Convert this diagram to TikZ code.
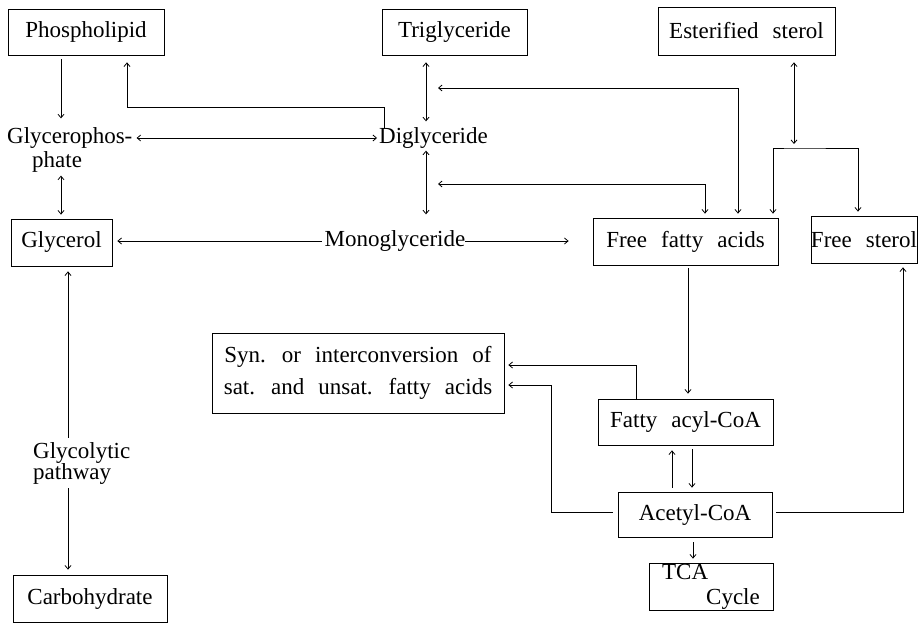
\documentclass[tikz,border=0pt]{standalone}
\usepackage{fontspec}
\setmainfont{Liberation Serif}[WordSpace=2.45]
\usetikzlibrary{arrows.meta,calc}
\begin{document}
\begin{tikzpicture}[x=1pt,y=-1pt,
  every node/.style={font=\fontsize{23}{24}\selectfont, inner sep=0pt},
  pbox/.style={draw, line width=0.8pt},
  conn/.style={line width=0.8pt},
  >={Straight Barb[length=3.5pt,width=6pt]}]
\useasboundingbox (0,0) rectangle (918,623);

% boxes
\node[pbox, minimum width=156pt, minimum height=46pt] (phos) at (86,32) {Phospholipid};
\node[pbox, minimum width=145pt, minimum height=46pt] (tri) at (454.5,32) {Triglyceride};
\node[pbox, minimum width=177pt, minimum height=48pt] (est) at (746.5,31) {Esterified sterol};
\node[pbox, minimum width=101pt, minimum height=47pt] (glyc) at (61.5,242.5) {Glycerol};
\node[pbox, minimum width=185pt, minimum height=47pt] (ffa) at (685.5,241.5) {Free fatty acids};
\node[pbox, minimum width=106pt, minimum height=47pt] (fst) at (864,239.5) {Free sterol};
\node[pbox, minimum width=292pt, minimum height=80pt, align=center,
      font=\fontsize{23}{32}\selectfont] (syn) at (358,373)
      {Syn. or interconversion of\\sat. and unsat. fatty acids};
\node[pbox, minimum width=175pt, minimum height=46pt] (fac) at (685.5,422) {Fatty acyl-CoA};
\node[pbox, minimum width=154pt, minimum height=45pt] (acc) at (695,514.5) {Acetyl-CoA};
\node[pbox, minimum width=124pt, minimum height=47pt, align=left,
      font=\fontsize{23}{25}\selectfont] (tca) at (711,586.5) {TCA\\\hspace*{44pt}Cycle};
\node[pbox, minimum width=154pt, minimum height=47pt] (carb) at (90,598.5) {Carbohydrate};

% plain text nodes
\node[anchor=west, align=left] (gph) at (7,150) {Glycerophos-\\\hspace*{25pt}phate};
\node (dig) at (433.5,138) {Diglyceride};
\node (mono) at (395,241) {Monoglyceride};
\node[anchor=west, align=left, font=\fontsize{23}{21}\selectfont] (glyco) at (33,463) {Glycolytic\\pathway};

% free ends / turning points
\coordinate (tdu) at (438,88);
\coordinate (tdl) at (438,184);
\coordinate (eb) at (794,148);
\coordinate (sl) at (551,385);

% connectors
\draw[conn,->] ($(phos.south)+(-25,4)$) -- ($(phos.south |- gph.north)+(-25,-9)$);
\draw[conn,->] ($(dig.north)+(-49.5,1)$) -- ++(0,-21) -| ($(phos.south)+(41,7)$);
\draw[conn,<->] ($(gph.east)+(4,-12)$) -- ($(dig.west)+(-2,0)$);
\draw[conn,<->] ($(phos.south |- gph.south)+(-25,3)$) -- ($(glyc.north)+(-0.5,-4)$);
\draw[conn,<->] ($(tri.south)+(-28.5,7)$) -- ($(dig.north)+(-7.5,-6)$);
\draw[conn,<->] ($(dig.south)+(-7.5,2)$) -- ($(mono.north)+(31,-16)$);
\draw[conn,->,shorten <=3pt,shorten >=5pt] (mono.west) -- (mono.west -| glyc.east);
\draw[conn,->,shorten >=24pt] (mono.east) -- (mono.east -| ffa.west);
\draw[conn,<->] (tdu) -| ($(ffa.north)+(52.5,-4)$);
\draw[conn,<->] (tdl) -| ($(ffa.north)+(19.5,-4)$);
\draw[conn,<->] ($(est.south)+(47.5,7)$) -- ($(eb)+(0,-4)$);
\draw[conn,<->] ($(ffa.north)+(87.5,-4)$) |- (eb) -| ($(fst.north)+(-6,-4)$);
\draw[conn,->] ($(ffa.south)+(2.5,3)$) -- ($(fac.north)+(2.5,-5)$);
\draw[conn,->] ($(fac.north)+(-49.5,0)$) |- ($(syn.east)+(4,-8)$);
\draw[conn,->] ($(acc.west)+(-5,-2)$) -| (sl) -- ($(syn.east)+(4,12)$);
\draw[conn,->] ($(acc.north)+(-23,-4)$) -- ($(fac.south)+(-13.5,5)$);
\draw[conn,->] ($(fac.south)+(6.5,4)$) -- ($(acc.north)+(-3,-4)$);
\draw[conn,->] ($(acc.south)+(-2,5)$) -- ($(tca.north)+(-18,-4)$);
\draw[conn,->] ($(acc.east)+(4,-2)$) -| ($(fst.south)+(39,4)$);
\draw[conn,->] ($(glyco.north west)+(35,-4)$) -- ($(glyc.south)+(6.5,5)$);
\draw[conn,->] ($(glyco.south west)+(35,4)$) -- ($(carb.north)+(-22,-5)$);
\end{tikzpicture}
\end{document}
